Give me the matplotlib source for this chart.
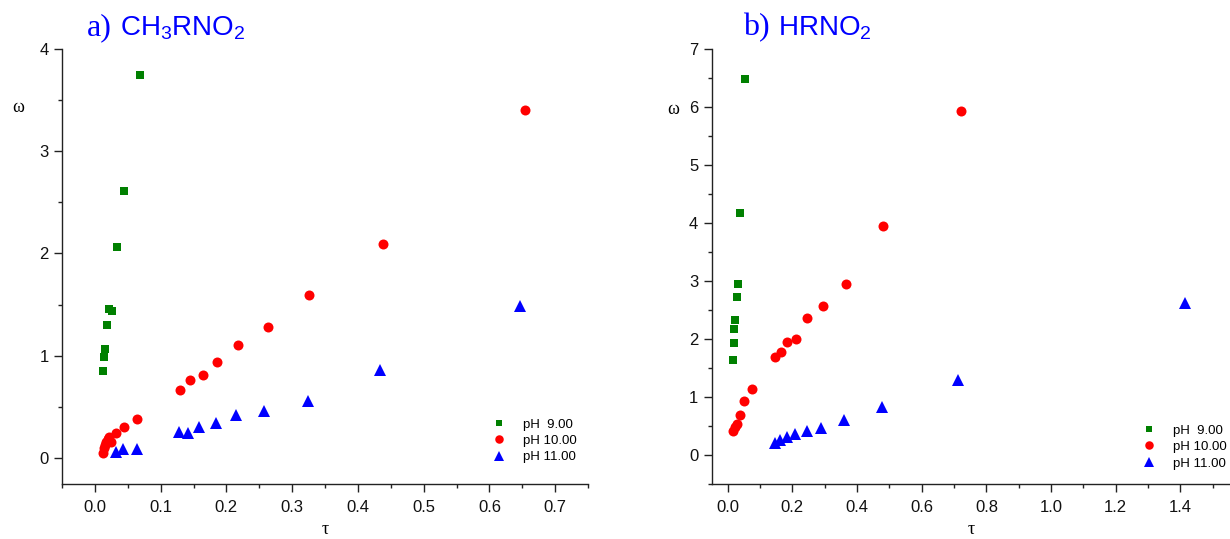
import matplotlib
matplotlib.use("Agg")
import matplotlib.pyplot as plt
from matplotlib.ticker import MultipleLocator

plt.rcParams['font.family'] = ['Liberation Sans', 'DejaVu Sans']
plt.rcParams['mathtext.fontset'] = 'custom'
plt.rcParams['mathtext.rm'] = 'Liberation Sans'
plt.rcParams['mathtext.it'] = 'Liberation Sans:italic'

# ---- data: panel a) CH3RNO2 ----
a_tau_ph9 = [0.0127, 0.0140, 0.0160, 0.0185, 0.0218, 0.0265, 0.0335, 0.0448, 0.0683]
a_om_ph9 = [0.850, 0.992, 1.064, 1.302, 1.452, 1.438, 2.068, 2.613, 3.742]
a_tau_ph10 = [0.0122, 0.0137, 0.0155, 0.0173, 0.0195, 0.0213, 0.0250, 0.0325, 0.0440,
              0.0645, 0.1300, 0.1450, 0.1640, 0.1850, 0.2180, 0.2630, 0.3250, 0.4380, 0.6540]
a_om_ph10 = [0.052, 0.095, 0.127, 0.160, 0.185, 0.209, 0.160, 0.240, 0.305,
             0.378, 0.666, 0.764, 0.815, 0.935, 1.104, 1.280, 1.595, 2.095, 3.405]
a_tau_ph11 = [0.0319, 0.0431, 0.0648, 0.1280, 0.1410, 0.1580, 0.1840, 0.2150, 0.2570,
              0.3240, 0.4330, 0.6460]
a_om_ph11 = [0.055, 0.091, 0.085, 0.258, 0.248, 0.307, 0.346, 0.421, 0.462,
             0.560, 0.858, 1.490]

# ---- data: panel b) HRNO2 ----
b_tau_ph9 = [0.0165, 0.0186, 0.0207, 0.0238, 0.0279, 0.0331, 0.0393, 0.0537]
b_om_ph9 = [1.624, 1.924, 2.172, 2.316, 2.713, 2.938, 4.165, 6.480]
b_tau_ph10 = [0.0180, 0.0220, 0.0290, 0.0382, 0.0506, 0.0755, 0.1478, 0.1654, 0.1840,
              0.2098, 0.2450, 0.2946, 0.3660, 0.4817, 0.7220]
b_om_ph10 = [0.405, 0.470, 0.524, 0.674, 0.916, 1.135, 1.676, 1.774, 1.935,
             1.993, 2.356, 2.569, 2.944, 3.946, 5.938]
b_tau_ph11 = [0.1460, 0.1623, 0.1840, 0.2078, 0.2440, 0.2894, 0.3597, 0.4775, 0.7110, 1.4147]
b_om_ph11 = [0.205, 0.259, 0.305, 0.346, 0.403, 0.461, 0.593, 0.824, 1.289, 2.618]

labels = ['pH  9.00', 'pH 10.00', 'pH 11.00']
colors = ['#008000', '#ff0000', '#0000ff']
markers = ['s', 'o', '^']
msizes = [5.6, 7.2, 8.0]

W, H = 1230, 539
fig = plt.figure(figsize=(W / 100, H / 100), dpi=100)

def px_axes(x0, x1, ytop, ybot):
    return fig.add_axes([x0 / W, 1 - ybot / H, (x1 - x0) / W, (ybot - ytop) / H])

axA = px_axes(62, 588, 49, 483.5)
axB = px_axes(711.5, 1229, 49, 483.5)

def style(ax, xlim, ylim, xmaj, xmin, ymaj, ymin, xfmt):
    ax.set_xlim(*xlim)
    ax.set_ylim(*ylim)
    for s in ['top', 'right']:
        ax.spines[s].set_visible(False)
    for s in ['left', 'bottom']:
        ax.spines[s].set_linewidth(1.0)
        ax.spines[s].set_color('#222222')
    ax.xaxis.set_major_locator(MultipleLocator(xmaj))
    ax.xaxis.set_minor_locator(MultipleLocator(xmin))
    ax.yaxis.set_major_locator(MultipleLocator(ymaj))
    ax.yaxis.set_minor_locator(MultipleLocator(ymin))
    ax.xaxis.set_major_formatter(plt.FuncFormatter(lambda v, p: xfmt.format(v)))
    ax.yaxis.set_major_formatter(plt.FuncFormatter(lambda v, p: '{:.0f}'.format(v)))
    ax.tick_params(which='major', direction='out', length=6, width=1.0,
                   color='#222222', labelsize=12, labelcolor='#111111')
    ax.tick_params(which='minor', direction='out', length=3, width=1.0, color='#222222')
    ax.tick_params(axis='x', which='major', pad=6)
    ax.tick_params(axis='y', which='major', pad=3.5)

def plot_series(ax, taus, oms, legend_anchor):
    handles = []
    for t, o, c, m, ms, lab in zip(taus, oms, colors, markers, msizes, labels):
        h, = ax.plot(t, o, linestyle='none', marker=m, markersize=ms, color=c,
                     markeredgewidth=0, label=lab, clip_on=False)
        handles.append(h)
    ax.legend(handles=handles, loc='upper left', bbox_to_anchor=legend_anchor,
              frameon=False, fontsize=9.5, handlelength=1.0, handletextpad=1.3,
              labelspacing=0.32, borderpad=0, borderaxespad=0, markerscale=0.85)

style(axA, (-0.05, 0.75), (-0.25, 4.0), 0.1, 0.05, 1, 0.5, '{:.1f}')
plot_series(axA, [a_tau_ph9, a_tau_ph10, a_tau_ph11],
            [a_om_ph9, a_om_ph10, a_om_ph11], (0.819, 0.150))

style(axB, (-0.05, 1.55), (-0.5, 7.0), 0.2, 0.1, 1, 0.5, '{:.1f}')
plot_series(axB, [b_tau_ph9, b_tau_ph10, b_tau_ph11],
            [b_om_ph9, b_om_ph10, b_om_ph11], (0.833, 0.136))

# titles
blue = '#0000ff'
def ftxt(x, y, s, **kw):
    fig.text(x / W, 1 - y / H, s, **kw)

ftxt(87, 35.5, 'a)', family='Liberation Serif', fontsize=23, color=blue, va='baseline')
ftxt(120, 35.5, r'CH$_3$RNO$_2$', fontsize=20, color=blue, va='baseline')
ftxt(743, 35.5, 'b)', family='Liberation Serif', fontsize=23, color=blue, va='baseline')
ftxt(777.5, 35.5, r'HRNO$_2$', fontsize=20, color=blue, va='baseline')

# axis labels
ftxt(18.5, 108, '\u03c9', family='Liberation Serif', fontsize=13, ha='center', va='center')
ftxt(673, 110, '\u03c9', family='Liberation Serif', fontsize=13, ha='center', va='center')
ftxt(325, 530, '\u03c4', family='Liberation Serif', fontsize=13, ha='center', va='center')
ftxt(971, 530, '\u03c4', family='Liberation Serif', fontsize=13, ha='center', va='center')

fig.savefig('out.png', dpi=100)
